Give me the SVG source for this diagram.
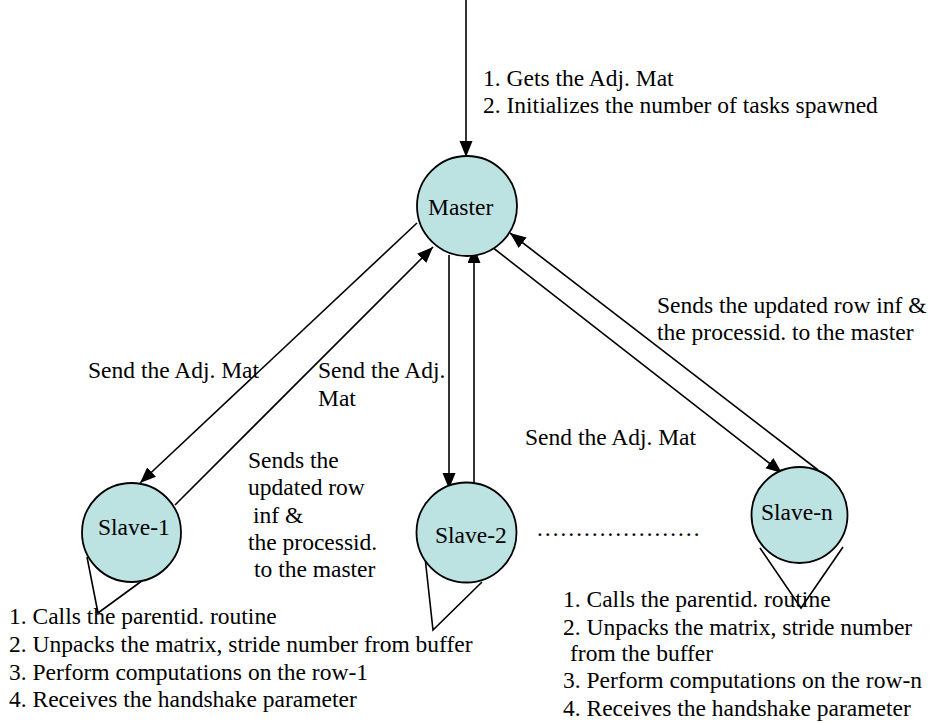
<svg xmlns="http://www.w3.org/2000/svg" width="936" height="723" viewBox="0 0 936 723">
  <style>
    .node { fill: #bce2e2; stroke: #000; stroke-width: 1.8; }
    .edge { fill: none; stroke: #000; stroke-width: 1.6; }
    .loop { fill: none; stroke: #000; stroke-width: 1.6; stroke-linejoin: miter; }
  </style>
  <defs>
    <marker id="arrow" markerUnits="userSpaceOnUse" markerWidth="18" markerHeight="14" refX="16" refY="6.5" orient="auto">
      <path d="M0,0 L16,6.5 L0,13 z" fill="#000"/>
    </marker>
  </defs>

  <rect width="936" height="723" fill="#fff"/>

  <!-- connectors -->
  <g id="connectors">
    <line class="edge" x1="466" y1="0" x2="466" y2="157" marker-end="url(#arrow)"/>
    <!-- Master -> Slave-1 and back -->
    <line class="edge" x1="417" y1="223" x2="140" y2="483" marker-end="url(#arrow)" stroke-width="2"/>
    <line class="edge" x1="175" y1="505" x2="433" y2="247" marker-end="url(#arrow)"/>
    <!-- Master -> Slave-2 and back -->
    <line class="edge" x1="449" y1="255" x2="449" y2="489" marker-end="url(#arrow)" stroke-width="2"/>
    <line class="edge" x1="474" y1="483" x2="474" y2="247" marker-end="url(#arrow)"/>
    <!-- Master -> Slave-n and back -->
    <line class="edge" x1="492" y1="247" x2="782" y2="473" marker-end="url(#arrow)"/>
    <line class="edge" x1="818" y1="470" x2="510" y2="233" marker-end="url(#arrow)"/>
    <!-- self loops -->
    <polyline class="loop" points="87,557 98,613 165,564"/>
    <polyline class="loop" points="425,557 433,630 482,582"/>
    <polyline class="loop" points="760,548 801,608 843,547"/>
  </g>

  <g font-family="'Liberation Serif', 'Times New Roman', Times, 'DejaVu Serif', serif" font-size="23.5" fill="#000">
    <!-- nodes -->
    <g id="master">
      <circle class="node" cx="467" cy="206" r="50"/>
      <text x="428" y="215">Master</text>
    </g>
    <g id="slave-1">
      <circle class="node" cx="131.5" cy="532.5" r="49.5"/>
      <text x="98" y="535">Slave-1</text>
    </g>
    <g id="slave-2">
      <circle class="node" cx="466.5" cy="532.5" r="50"/>
      <text x="435" y="543">Slave-2</text>
    </g>
    <g id="slave-n">
      <circle class="node" cx="799.5" cy="515" r="48"/>
      <text x="761" y="520">Slave-n</text>
    </g>

    <!-- labels -->
    <g id="labels">
      <text x="483" y="86">1. Gets the Adj. Mat</text>
      <text x="483" y="113">2. Initializes the number of tasks spawned</text>

      <text x="88" y="378">Send the Adj. Mat</text>
      <text x="318" y="378">Send the Adj.</text>
      <text x="318" y="405.5">Mat</text>

      <text x="657" y="313">Sends the updated row inf &amp;</text>
      <text x="657" y="340">the processid. to the master</text>

      <text x="525" y="445">Send the Adj. Mat</text>

      <text x="248" y="468">Sends the</text>
      <text x="248" y="495">updated row</text>
      <text x="253" y="523">inf &amp;</text>
      <text x="248" y="550">the processid.</text>
      <text x="254" y="577">to the master</text>

      <text x="536" y="536">…………………</text>

      <text x="9" y="624">1. Calls the parentid. routine</text>
      <text x="9" y="652">2. Unpacks the matrix, stride number from buffer</text>
      <text x="9" y="680">3. Perform computations on the row-1</text>
      <text x="9" y="707">4. Receives the handshake parameter</text>

      <text x="563" y="607">1. Calls the parentid. routine</text>
      <text x="563" y="635">2. Unpacks the matrix, stride number</text>
      <text x="570" y="661">from the buffer</text>
      <text x="563" y="688">3. Perform computations on the row-n</text>
      <text x="563" y="716">4. Receives the handshake parameter</text>
    </g>
  </g>
</svg>
